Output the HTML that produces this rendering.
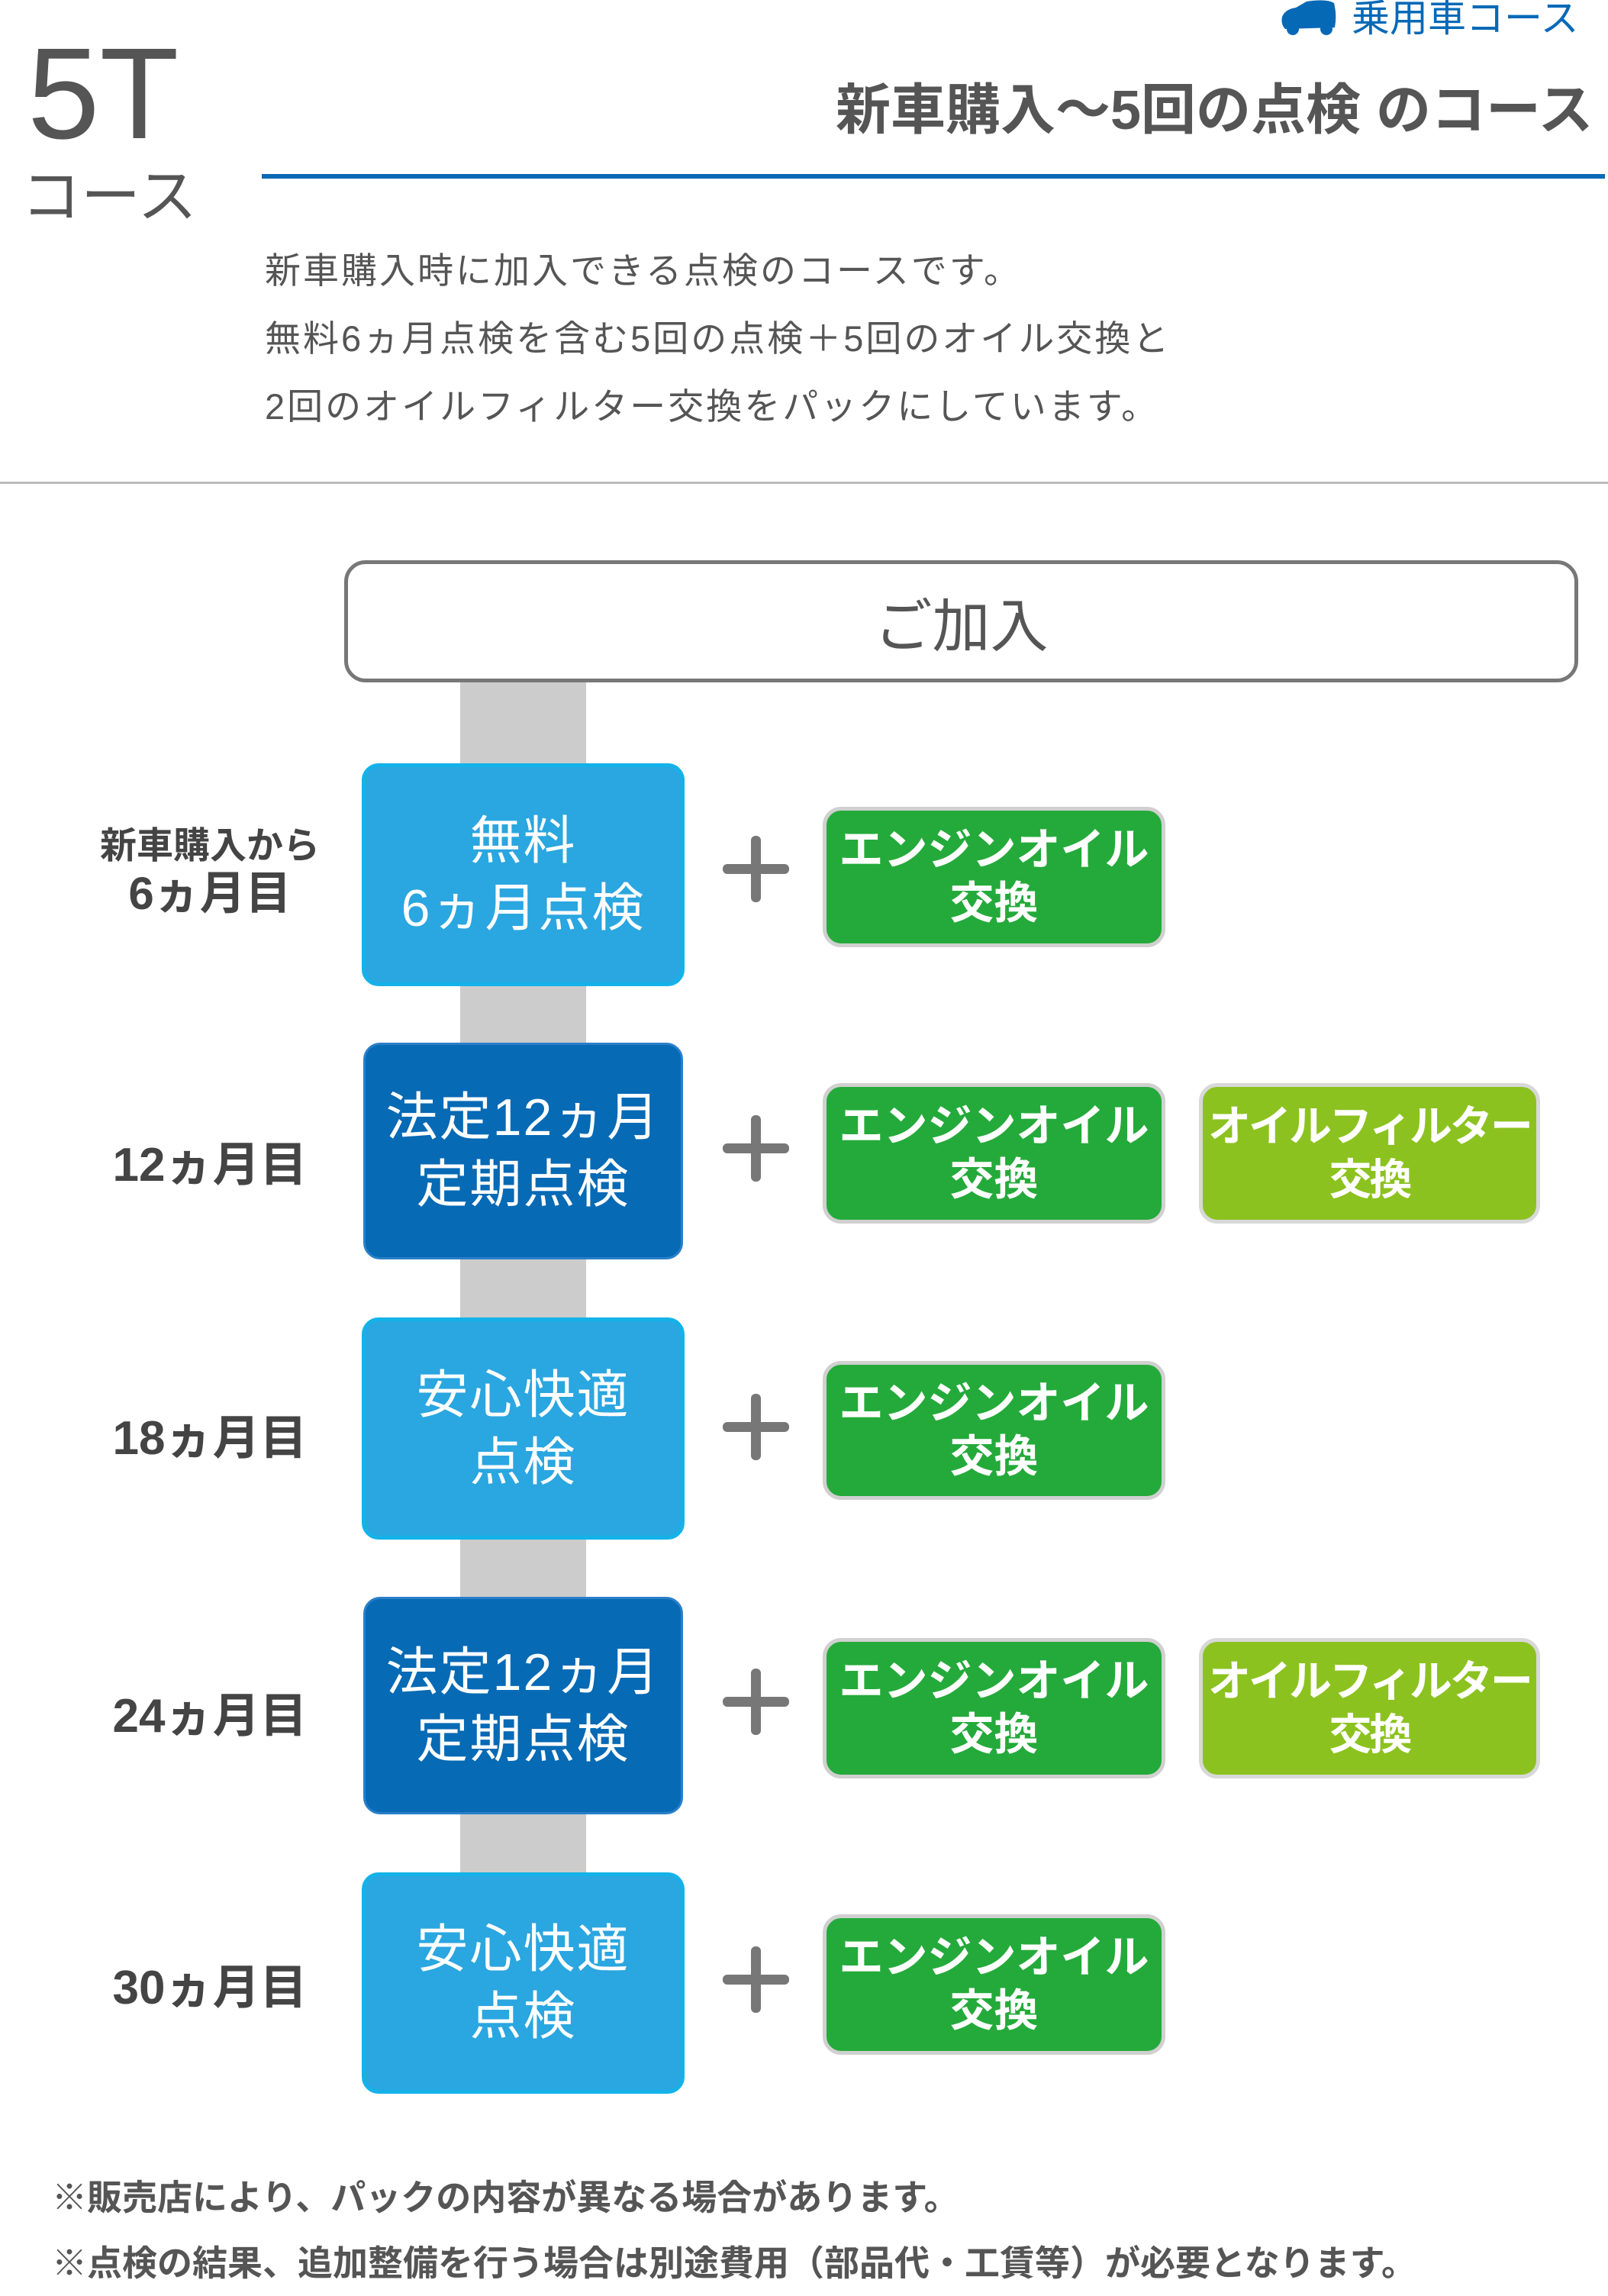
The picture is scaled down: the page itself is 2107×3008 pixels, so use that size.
<!DOCTYPE html>
<html><head><meta charset="utf-8"><style>
*{margin:0;padding:0;box-sizing:border-box}
body{width:2107px;height:2974px;background:#fff;position:relative;overflow:hidden;font-family:"Liberation Sans","Noto Sans CJK JP",sans-serif;color:#555}
.a{position:absolute}
.c{display:flex;align-items:center;justify-content:center;text-align:center;flex-direction:column}
.lb{background:#2aa6e0;border:5px solid #14b2e8;border-radius:22px;color:#fff;font-size:68px;line-height:88px;letter-spacing:2px}
.db{background:#066ab5;border:3px solid #2a7fc8;border-radius:22px;color:#fff;font-size:68px;line-height:88px;letter-spacing:2px}
.g{background:#24aa3a;border:5px solid #d0d0d0;border-radius:24px;color:#fff;font-size:58px;font-weight:bold;line-height:70px;white-space:nowrap}
.y{background:#8cc21f;border:5px solid #d8d8d8;border-radius:24px;color:#fff;font-size:56px;font-weight:bold;line-height:70px;letter-spacing:-3px;white-space:nowrap}
.p{width:87px;height:87px}
.p:before{content:"";position:absolute;left:0;top:37px;width:87px;height:13px;background:#777;border-radius:6px}
.p:after{content:"";position:absolute;left:37px;top:0;width:13px;height:87px;background:#777;border-radius:6px}
.l{left:60px;width:430px;color:#444;font-size:62px;font-weight:bold}
</style></head><body>
<div class="a" style="left:36px;top:38px;font-size:170px;color:#555;line-height:170px">5T</div>
<div class="a" style="left:28px;top:212px;font-size:78px;color:#555;line-height:90px">コース</div>
<svg class="a" style="left:1676px;top:0" width="80" height="46" viewBox="0 0 80 46"><path d="M4 22 Q8 12 22 10 L36 2 Q62 -2 72 4 Q76 20 73 36 L8 38 Q2 32 4 22Z" fill="#0669b6"/><circle cx="18" cy="38" r="8" fill="#0669b6"/><circle cx="62" cy="38" r="8" fill="#0669b6"/></svg>
<div class="a" style="left:1771px;top:-6px;font-size:50px;color:#0669b6;line-height:60px">乗用車コース</div>
<div class="a" style="left:1095px;top:100px;font-size:72px;font-weight:bold;color:#555;line-height:90px;white-space:nowrap">新車購入〜5回の点検 のコース</div>
<div class="a" style="left:343px;top:228px;width:1760px;height:6px;background:#0669b6"></div>
<div class="a" style="left:347px;top:310px;font-size:47px;letter-spacing:3px;color:#555;line-height:89px;white-space:nowrap">新車購入時に加入できる点検のコースです。<br>無料6ヵ月点検を含む5回の点検＋5回のオイル交換と<br>2回のオイルフィルター交換をパックにしています。</div>
<div class="a" style="left:0;top:631px;width:2107px;height:3px;background:#bbb"></div>
<div class="a c" style="left:451px;top:734px;width:1617px;height:160px;border:5px solid #777;border-radius:28px;font-size:76px;color:#555">ご加入</div>
<div class="a" style="left:603px;top:894px;width:165px;height:1562px;background:#ccc"></div>

<div class="a c lb" style="left:474px;top:1000px;width:423px;height:292px">無料<br>6ヵ月点検</div>
<div class="a c db" style="left:476px;top:1366px;width:419px;height:284px">法定12ヵ月<br>定期点検</div>
<div class="a c lb" style="left:474px;top:1726px;width:423px;height:291px">安心快適<br>点検</div>
<div class="a c db" style="left:476px;top:2092px;width:419px;height:285px">法定12ヵ月<br>定期点検</div>
<div class="a c lb" style="left:474px;top:2453px;width:423px;height:290px">安心快適<br>点検</div>

<div class="a p" style="left:947px;top:1095px"></div>
<div class="a p" style="left:947px;top:1461px"></div>
<div class="a p" style="left:947px;top:1826px"></div>
<div class="a p" style="left:947px;top:2186px"></div>
<div class="a p" style="left:947px;top:2550px"></div>

<div class="a c g" style="left:1078px;top:1057px;width:449px;height:184px">エンジンオイル<br>交換</div>
<div class="a c g" style="left:1078px;top:1419px;width:449px;height:184px">エンジンオイル<br>交換</div>
<div class="a c g" style="left:1078px;top:1783px;width:449px;height:182px">エンジンオイル<br>交換</div>
<div class="a c g" style="left:1078px;top:2146px;width:449px;height:184px">エンジンオイル<br>交換</div>
<div class="a c g" style="left:1078px;top:2508px;width:449px;height:184px">エンジンオイル<br>交換</div>
<div class="a c y" style="left:1571px;top:1419px;width:447px;height:184px">オイルフィルター<br>交換</div>
<div class="a c y" style="left:1571px;top:2146px;width:447px;height:184px">オイルフィルター<br>交換</div>

<div class="a c l" style="top:1075px;height:130px;line-height:62px"><span style="font-size:48px">新車購入から</span><span style="font-size:60px">6ヵ月目</span></div>
<div class="a c l" style="top:1480px;height:80px">12ヵ月目</div>
<div class="a c l" style="top:1838px;height:80px">18ヵ月目</div>
<div class="a c l" style="top:2202px;height:80px">24ヵ月目</div>
<div class="a c l" style="top:2558px;height:80px">30ヵ月目</div>

<div class="a" style="left:68px;top:2836px;font-size:46px;letter-spacing:0;font-weight:bold;color:#555;line-height:86px;white-space:nowrap">※販売店により、パックの内容が異なる場合があります。<br>※点検の結果、追加整備を行う場合は別途費用（部品代・工賃等）が必要となります。</div>
</body></html>
